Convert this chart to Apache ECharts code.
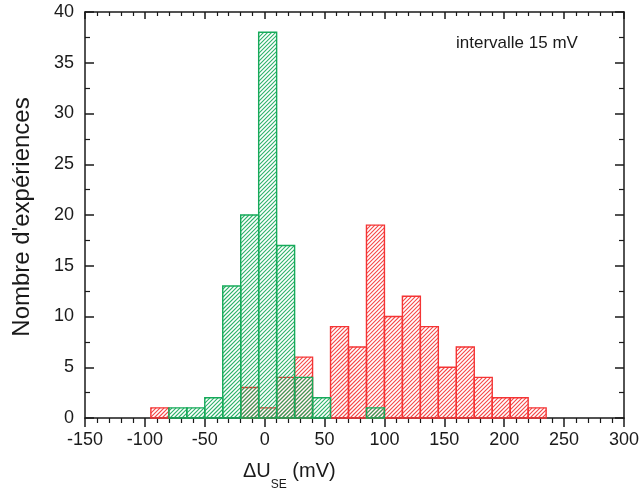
<!DOCTYPE html>
<html>
<head>
<meta charset="utf-8">
<script src="https://cdn.jsdelivr.net/npm/echarts@6/dist/echarts.min.js"></script>
<style>html,body{margin:0;padding:0;background:#fff}#c{width:642px;height:497px}</style>
</head>
<body>
<div id="c"></div>
<script>
// Histogram data (bin width 15 mV, left edge of each bin)
const binWidth = 15;
const greenBinStarts = [-80, -65, -50, -35, -20, -5, 10, 25, 40, 85];
const greenCounts    = [1, 1, 2, 13, 20, 38, 17, 4, 2, 1];
const redBinStarts   = [-95, -20, -5, 10, 25, 55, 70, 85, 100, 115, 130, 145, 160, 175, 190, 205, 220];
const redCounts      = [1, 3, 1, 4, 6, 9, 7, 19, 10, 12, 9, 5, 7, 4, 2, 2, 1];
const xTicks = [-150, -100, -50, 0, 50, 100, 150, 200, 250, 300];
const yTicks = [0, 5, 10, 15, 20, 25, 30, 35, 40];

const GREEN = '#16aa5a';
const RED = '#f43434';
const FONT = 'Liberation Sans, Arial, sans-serif';
const HATCH_STEP = 4;

function hatchPath(x0, y0, x1, y1) {
  // "/" lines: x + y = c, clipped to rect
  let d = '';
  const cStart = Math.ceil((x0 + y0) / HATCH_STEP) * HATCH_STEP;
  for (let c = cStart; c <= x1 + y1; c += HATCH_STEP) {
    const xa = Math.max(x0, c - y1);
    const xb = Math.min(x1, c - y0);
    if (xb <= xa) continue;
    d += 'M' + xa.toFixed(2) + ' ' + (c - xa).toFixed(2) + 'L' + xb.toFixed(2) + ' ' + (c - xb).toFixed(2);
  }
  return d;
}

function makeSeries(name, starts, counts, color) {
  return {
    type: 'custom',
    name: name,
    xAxisIndex: 0,
    yAxisIndex: 0,
    data: starts.map((s, i) => [s, counts[i]]),
    renderItem: function (params, api) {
      const x0 = api.value(0);
      const c = api.value(1);
      const p0 = api.coord([x0, c]);
      const p1 = api.coord([x0 + binWidth, 0]);
      const d = hatchPath(p0[0], p0[1], p1[0], p1[1]);
      const children = [];
      if (d) {
        children.push({
          type: 'path',
          shape: { pathData: d },
          style: { fill: null, stroke: color, lineWidth: 1.1, opacity: 0.9 }
        });
      }
      children.push({
        type: 'rect',
        shape: { x: p0[0], y: p0[1], width: p1[0] - p0[0], height: p1[1] - p0[1] },
        style: { fill: null, stroke: color, lineWidth: 1.4 }
      });
      return { type: 'group', children: children };
    }
  };
}

const chart = echarts.init(document.getElementById('c'), null, { renderer: 'canvas' });
const axisLine = { show: true, onZero: false, lineStyle: { color: '#1a1a1a', width: 1.5 } };
chart.setOption({
  animation: false,
  backgroundColor: '#fff',
  grid: { left: 85, right: 15, top: 12, bottom: 79 },
  xAxis: [{
    type: 'value', min: xTicks[0], max: xTicks[xTicks.length - 1], interval: 50,
    position: 'bottom',
    axisLine: axisLine,
    axisTick: { show: true, inside: false, length: 9, lineStyle: { color: '#1a1a1a', width: 1.5 } },
    minorTick: { show: true, splitNumber: 5, length: 5, lineStyle: { color: '#1a1a1a', width: 1.2 } },
    splitLine: { show: false },
    axisLabel: { color: '#1a1a1a', fontSize: 18, fontFamily: FONT, margin: 13 }
  }, {
    type: 'value', min: xTicks[0], max: xTicks[xTicks.length - 1], interval: 50,
    position: 'top',
    axisLine: axisLine,
    axisTick: { show: true, inside: true, length: 7, lineStyle: { color: '#1a1a1a', width: 1.5 } },
    minorTick: { show: true, splitNumber: 5, length: 4, lineStyle: { color: '#1a1a1a', width: 1.2 } },
    splitLine: { show: false },
    axisLabel: { show: false }
  }],
  yAxis: [{
    type: 'value', min: yTicks[0], max: yTicks[yTicks.length - 1], interval: 5,
    position: 'left',
    axisLine: axisLine,
    axisTick: { show: true, inside: true, length: 9, lineStyle: { color: '#1a1a1a', width: 1.5 } },
    minorTick: { show: true, splitNumber: 2, length: 5, lineStyle: { color: '#1a1a1a', width: 1.2 } },
    splitLine: { show: false },
    axisLabel: { color: '#1a1a1a', fontSize: 18, fontFamily: FONT, margin: 11 }
  }, {
    type: 'value', min: yTicks[0], max: yTicks[yTicks.length - 1], interval: 5,
    position: 'right',
    axisLine: axisLine,
    axisTick: { show: true, inside: true, length: 9, lineStyle: { color: '#1a1a1a', width: 1.5 } },
    minorTick: { show: true, splitNumber: 2, length: 5, lineStyle: { color: '#1a1a1a', width: 1.2 } },
    splitLine: { show: false },
    axisLabel: { show: false }
  }],
  graphic: [{
    type: 'text', left: 456, top: 35,
    style: { text: 'intervalle 15 mV', fontSize: 17, fontFamily: FONT, fill: '#1a1a1a' }
  }, {
    type: 'text', left: 243, top: 461,
    style: {
      text: '{a|ΔU}{s|SE}{a| (mV)}',
      fontFamily: FONT,
      rich: {
        a: { fontSize: 20, fontFamily: FONT, fill: '#1a1a1a', verticalAlign: 'top', lineHeight: 22 },
        s: { fontSize: 12, fontFamily: FONT, fill: '#1a1a1a', verticalAlign: 'bottom', lineHeight: 30 }
      }
    }
  }, {
    type: 'text', x: 22, y: 217, rotation: Math.PI / 2,
    style: { text: "Nombre d'expériences", fontSize: 24, fontFamily: FONT, fill: '#1a1a1a', align: 'center', verticalAlign: 'middle' }
  }],
  series: [
    makeSeries('red', redBinStarts, redCounts, RED),
    makeSeries('green', greenBinStarts, greenCounts, GREEN)
  ]
});
</script>
</body>
</html>
